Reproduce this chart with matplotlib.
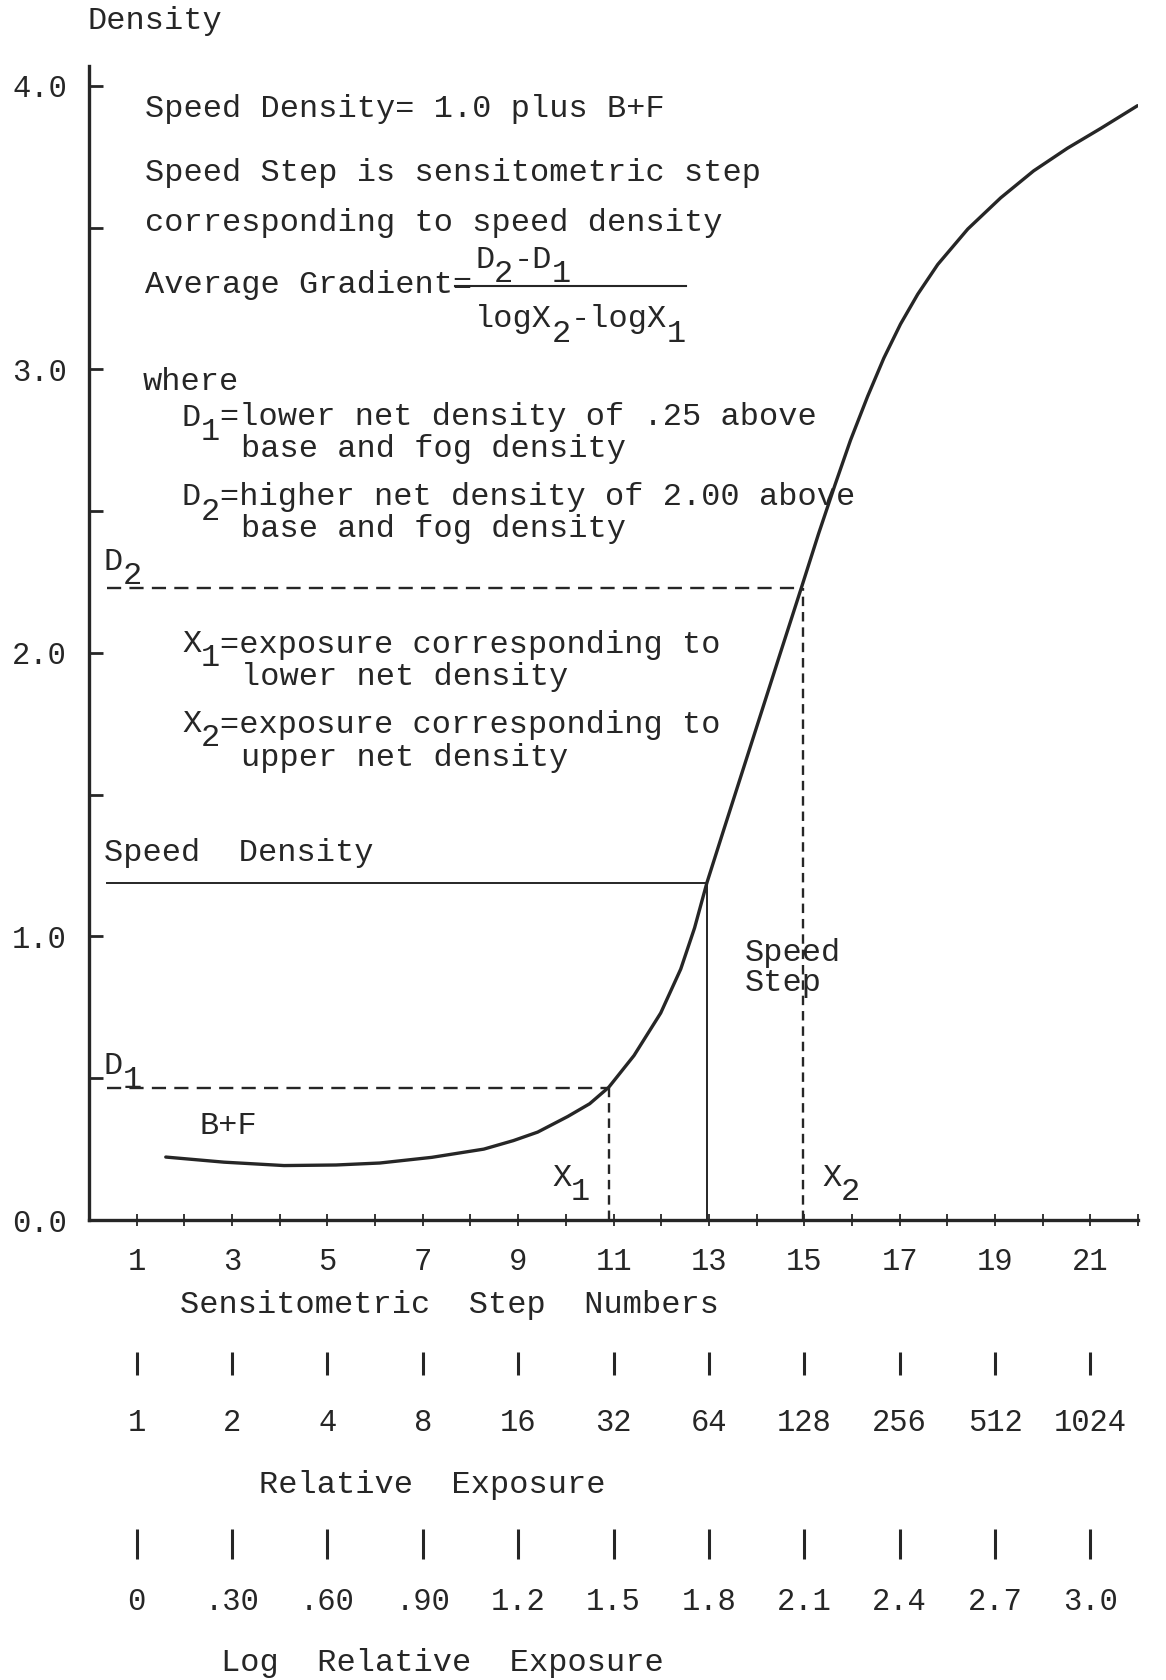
import matplotlib.pyplot as plt
from matplotlib.lines import Line2D

plt.rcParams['font.family'] = ['Liberation Mono', 'DejaVu Sans Mono']

W, H = 1166, 1680
INK = '#262626'
FS = 23

# -----------------------
# DATA
# -----------------------
step = [1.61, 2.83, 4.09, 5.18, 6.10, 7.19, 8.28, 8.90, 9.41, 10.04, 10.50,
        10.90, 11.43, 11.99, 12.41, 12.70, 12.96, 13.30, 13.70, 14.10, 14.50,
        14.95, 15.30, 15.65, 15.97, 16.33, 16.67, 17.02, 17.38, 17.80, 18.43,
        19.12, 19.81, 20.52, 21.22, 21.99]
density = [0.222, 0.204, 0.192, 0.194, 0.201, 0.221, 0.250, 0.280, 0.310, 0.365, 0.410,
           0.468, 0.580, 0.730, 0.885, 1.030, 1.190, 1.370, 1.580, 1.790, 2.000,
           2.235, 2.420, 2.595, 2.750, 2.905, 3.040, 3.160, 3.265, 3.370, 3.495,
           3.605, 3.700, 3.780, 3.850, 3.930]

d1_density = 0.465
speed_density = 1.19
d2_density = 2.23
x1_step = 10.9
speed_step = 12.96
x2_step = 14.97
guide_start = 0.38

step_ticks = list(range(1, 23))
step_labels = [str(s) if s % 2 else '' for s in step_ticks]
odd_steps = list(range(1, 22, 2))
rel_exposure = ['1', '2', '4', '8', '16', '32', '64', '128', '256', '512', '1024']
log_exposure = ['0', '.30', '.60', '.90', '1.2', '1.5', '1.8', '2.1', '2.4', '2.7', '3.0']
density_ticks = [0, 1, 2, 3, 4]
density_labels = ['0.0', '1.0', '2.0', '3.0', '4.0']
density_minor = [0.5, 1.5, 2.5, 3.5]


def fx(px):
    return px / W


def fy(py):
    return 1 - py / H


def typed(x, y, s, size=FS):
    # typewriter line, '_' puts the next char half a line lower
    cw = 0.6 * size / 72 * 100
    base = y + 9.5
    run, run_col, col, i = '', 0, 0, 0
    while i < len(s):
        if s[i] == '_':
            if run:
                fig.text(fx(x + run_col * cw), fy(base), run, fontsize=size,
                         color=INK, va='baseline', ha='left')
            fig.text(fx(x + col * cw), fy(base + 14), s[i + 1], fontsize=size,
                     color=INK, va='baseline', ha='left')
            col += 1
            i += 2
            run, run_col = '', col
        else:
            run += s[i]
            col += 1
            i += 1
    if run:
        fig.text(fx(x + run_col * cw), fy(base), run, fontsize=size,
                 color=INK, va='baseline', ha='left')


fig = plt.figure(figsize=(W / 100, H / 100), dpi=100)

# -----------------------
# MAIN AXES
# -----------------------
ax_l, ax_r, ax_top, ax_bot = 89, 1138, 66, 1220
ax = fig.add_axes([fx(ax_l), fy(ax_bot), fx(ax_r) - fx(ax_l), fy(ax_top) - fy(ax_bot)])
ax.set_xlim(0, 22.0)
ax.set_ylim(0, 4.07)
for side in ['top', 'right']:
    ax.spines[side].set_visible(False)
for side in ['left', 'bottom']:
    ax.spines[side].set_linewidth(2.4)
    ax.spines[side].set_color(INK)

ax.plot(step, density, color=INK, lw=2.4, solid_capstyle='round', solid_joinstyle='round')

ax.plot([guide_start, x2_step], [d2_density, d2_density], color=INK, lw=1.7, ls=(0, (6, 3.5)))
ax.plot([x2_step, x2_step], [0, d2_density], color=INK, lw=1.7, ls=(0, (4, 2.5)))
ax.plot([guide_start, speed_step], [speed_density, speed_density], color=INK, lw=1.4)
ax.plot([speed_step, speed_step], [0, speed_density], color=INK, lw=1.4)
ax.plot([guide_start, x1_step], [d1_density, d1_density], color=INK, lw=1.7, ls=(0, (6, 3.5)))
ax.plot([x1_step, x1_step], [0, d1_density], color=INK, lw=1.7, ls=(0, (4, 2.5)))

ax.set_xticks(step_ticks, step_labels)
ax.tick_params(axis='x', direction='inout', length=9, width=1.3, pad=15,
               labelsize=22, colors=INK)
ax.set_yticks(density_ticks, density_labels)
ax.set_yticks(density_minor, minor=True)
ax.tick_params(axis='y', which='both', direction='in', length=10, width=2,
               pad=16, labelsize=22, colors=INK)

# -----------------------
# EXTRA SCALES BELOW
# -----------------------
def scale_row(y_px, labels, length, pad):
    r = fig.add_axes([fx(ax_l), fy(y_px), fx(ax_r) - fx(ax_l), 0.0001])
    r.set_xlim(ax.get_xlim())
    r.set_yticks([])
    for s in r.spines.values():
        s.set_visible(False)
    r.patch.set_visible(False)
    r.set_xticks(odd_steps, labels)
    r.tick_params(axis='x', direction='out', length=length, width=2.2,
                  pad=pad, labelsize=22, colors=INK)
    return r


scale_row(1352, rel_exposure, 16.5, 24)
scale_row(1529, log_exposure, 21.5, 20.5)

fig.text(fx(155), fy(21), 'Density', fontsize=FS, color=INK, ha='center', va='center')
fig.text(fx(450), fy(1305), 'Sensitometric  Step  Numbers', fontsize=FS, color=INK,
         ha='center', va='center')
fig.text(fx(432), fy(1485), 'Relative  Exposure', fontsize=FS, color=INK,
         ha='center', va='center')
fig.text(fx(442), fy(1663), 'Log  Relative  Exposure', fontsize=FS, color=INK,
         ha='center', va='center')

# -----------------------
# NOTES
# -----------------------
typed(145, 107, 'Speed Density= 1.0 plus B+F')
typed(145, 171, 'Speed Step is sensitometric step')
typed(145, 221, 'corresponding to speed density')
typed(475, 259, 'D_2-D_1')
typed(145, 284, 'Average Gradient=')
fig.add_artist(Line2D([fx(455), fx(686)], [fy(286), fy(286)],
                      transform=fig.transFigure, color=INK, lw=1.5))
typed(475, 318, 'logX_2-logX_1')
typed(143, 380, 'where')
typed(182, 416, 'D_1=lower net density of .25 above')
typed(241, 448, 'base and fog density')
typed(182, 496, 'D_2=higher net density of 2.00 above')
typed(241, 528, 'base and fog density')
typed(182, 643, 'X_1=exposure corresponding to')
typed(241, 675, 'lower net density')
typed(182, 723, 'X_2=exposure corresponding to')
typed(241, 756, 'upper net density')

typed(104, 560, 'D_2')
typed(104, 852, 'Speed  Density')
typed(745, 951, 'Speed')
typed(745, 982, 'Step')
typed(104, 1064, 'D_1')
typed(200, 1125, 'B+F')
typed(552, 1176, 'X_1')
typed(822, 1176, 'X_2')

fig.savefig('out.png', dpi=100, facecolor='white')
